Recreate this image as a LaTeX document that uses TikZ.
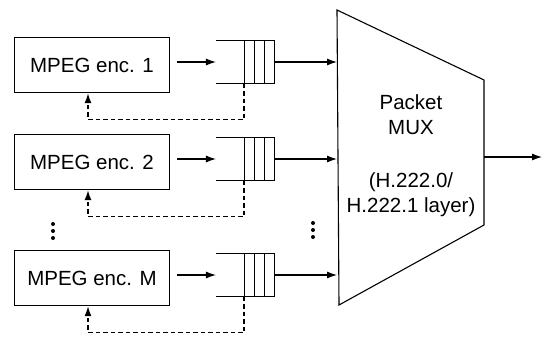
\documentclass[tikz,border=0pt]{standalone}
\usepackage{fontspec}
\setmainfont{Liberation Sans}
\usetikzlibrary{arrows.meta,calc}
\tikzset{
  mpegsys/.style={x=1pt,y=-1pt,line width=1.1pt,font=\fontsize{20.5}{25}\selectfont},
  encbox/.style={draw,minimum width=155pt,minimum height=55pt,inner sep=0pt},
  qbox/.style={minimum width=57pt,minimum height=42pt,inner sep=0pt},
  flow/.style={-{Latex[length=10pt,width=7pt]}},
  fback/.style={flow,dash pattern=on 4.5pt off 3pt,line width=1.6pt},
}

\begin{document}
\begin{tikzpicture}[mpegsys]
  \useasboundingbox (0,0) rectangle (548,337);
  % packet multiplexer
  \coordinate (mtl) at (337,10);
  \coordinate (mtr) at (484,80);
  \coordinate (mbr) at (484,225);
  \coordinate (mbl) at (339,305);
  \draw (mtl) -- (mtr) -- (mbr) -- (mbl) -- cycle;
  \node[align=center] (pkt) at (411,115) {Packet\\MUX};
  \node[align=center] (lay) at (411,195) {(H.222.0/\\H.222.1 layer)};
  \coordinate (out) at (542,157);
  \draw[flow] (mtr |- out) -- (out);
  % encoders and their buffers
  \foreach \i/\lab/\y in {1/1/65,2/2/162,3/M/278} {
    \node[encbox] (enc\i) at (92,\y) {MPEG enc. \lab};
    \node[qbox] (q\i) at (245,\y-3) {};
    \draw (q\i.north west) -- (q\i.north east) -- (q\i.south east) -- (q\i.south west);
    \foreach \c in {10,20,30}
      \draw ($(q\i.north east)+(-\c,0)$) -- ($(q\i.south east)+(-\c,0)$);
    \draw[flow,shorten <=7pt] (enc\i.east |- q\i.west) -- (q\i.west);
    \draw[flow] (q\i.east) -- (q\i.east -| mtl);
    \draw[fback] ($(q\i.south east)+(-30,0)$) -- ++(0,36) -| ($(enc\i.south)+(-4,0)$);
  }
  % vertical dots
  \foreach \yy in {224,231,238} {
    \fill (53,\yy) circle (2pt);
    \fill (313,\yy-1) circle (2pt);
  }
\end{tikzpicture}
\end{document}
